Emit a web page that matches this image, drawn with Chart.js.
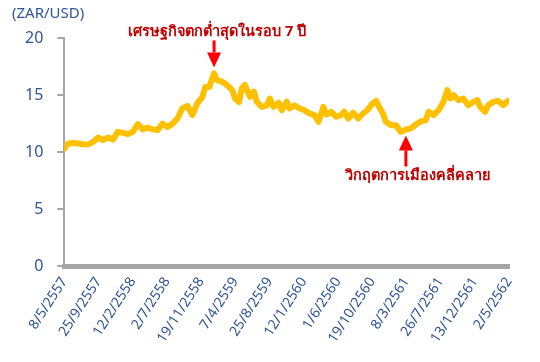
<!DOCTYPE html>
<html><head><meta charset="utf-8">
<script src="https://cdn.jsdelivr.net/npm/chart.js@4.4.1/dist/chart.umd.min.js"></script>
<style>html,body{margin:0;padding:0;background:#fff}#wrap{width:540px;height:362px}</style>
</head><body><div id="wrap"><canvas id="c" width="540" height="362"></canvas></div>
<script>
const unitLabel = '(ZAR/USD)';
const tickLabels = ['8/5/2557','25/9/2557','12/2/2558','2/7/2558','19/11/2558','7/4/2559','25/8/2559','12/1/2560','1/6/2560','19/10/2560','8/3/2561','26/7/2561','13/12/2561','2/5/2562'];
const tickStepDays = 140;
const days = [0,16,37,57,77,98,118,138,158,179,199,219,240,260,280,301,321,341,362,382,402,422,443,463,483,504,524,544,565,577,593,613,626,646,666,687,699,715,727,739,760,776,788,808,829,841,857,877,890,910,922,943,963,983,1003,1024,1040,1052,1060,1073,1093,1113,1133,1146,1162,1182,1203,1223,1243,1255,1276,1288,1304,1316,1337,1357,1377,1398,1418,1438,1458,1479,1491,1511,1532,1552,1568,1580,1593,1613,1633,1653,1674,1690,1702,1722,1735,1755,1775,1796,1816];
const rate = [10.3,10.76,10.8,10.76,10.7,10.68,10.9,11.29,11.05,11.29,11.1,11.78,11.7,11.58,11.78,12.46,12.0,12.15,12.0,11.93,12.5,12.2,12.5,12.95,13.83,14.06,13.25,14.27,14.85,15.7,15.7,16.9,16.3,16.17,15.88,15.44,14.7,14.4,15.6,15.9,14.85,15.3,14.4,13.97,14.1,14.7,13.97,14.33,13.68,14.42,13.83,14.1,13.83,13.68,13.39,13.25,12.66,13.39,13.97,13.3,13.54,13.1,13.25,13.54,12.95,13.45,12.95,13.39,13.74,14.12,14.5,13.97,13.39,12.66,12.37,12.37,11.78,11.99,12.08,12.4,12.7,12.8,13.54,13.25,13.68,14.42,15.44,14.7,15.0,14.56,14.7,14.12,14.4,14.56,13.97,13.54,14.12,14.4,14.5,14.12,14.5];
const noteTexts = ['เศรษฐกิจตกต่ำสุดในรอบ 7 ปี','วิกฤตการเมืองคลี่คลาย'];
const noteDays = [613, 1398];
const noteValues = [16.9, 11.99];
const noteSides = ['above','below'];

const BLUE = '#2F5597', GRAY = '#A6A6A6';
const points = days.map((d,i)=>({x:d,y:rate[i]}));

const notesPlugin = {
  id:'notes',
  afterDraw(chart){
    const ctx = chart.ctx, xs = chart.scales.x, ys = chart.scales.y;
    ctx.save();
    ctx.fillStyle = BLUE;
    ctx.font = '15px "Noto Sans", sans-serif';
    ctx.textAlign = 'left'; ctx.textBaseline = 'middle';
    ctx.fillText(unitLabel, 12, 14);
    noteTexts.forEach((t,i)=>{
      const px = xs.getPixelForValue(noteDays[i]);
      const py = ys.getPixelForValue(noteValues[i]);
      const dir = noteSides[i]==='above' ? -1 : 1;
      const tipY = py + dir*6;
      const headY = tipY + dir*15;
      const tailY = headY + dir*(i===0?12:16);
      ctx.fillStyle = '#FF0000'; ctx.strokeStyle = '#FF0000';
      ctx.beginPath(); ctx.moveTo(px, tipY); ctx.lineTo(px-7, headY); ctx.lineTo(px+7, headY); ctx.closePath(); ctx.fill();
      ctx.lineWidth = 3; ctx.beginPath(); ctx.moveTo(px, headY); ctx.lineTo(px, tailY); ctx.stroke();
      ctx.fillStyle = '#C00000';
      ctx.font = 'bold 14.5px "Noto Sans", sans-serif';
      ctx.textAlign = 'center'; ctx.textBaseline = 'middle';
      const ty = i===0 ? tailY - 9 : tailY + 9;
      const tx = i===0 ? px + 3 : px + 12;
      ctx.fillText(t, tx, ty);
    });
    ctx.restore();
  }
};

new Chart(document.getElementById('c'), {
  type:'line',
  data:{datasets:[{data:points,borderColor:'#FFC000',borderWidth:6,pointRadius:0,tension:0,fill:false,borderJoinStyle:'round',borderCapStyle:'round'}]},
  options:{
    responsive:false, animation:false,
    layout:{padding:{left:11,right:31,top:38,bottom:8}},
    plugins:{legend:{display:false},tooltip:{enabled:false}},
    scales:{
      x:{type:'linear',min:0,max:tickStepDays*(tickLabels.length-1),
        afterBuildTicks:s=>{s.ticks = tickLabels.map((_,i)=>({value:i*tickStepDays}));},
        grid:{display:false,drawTicks:false},
        border:{display:true,color:GRAY,width:5},
        ticks:{autoSkip:false,maxRotation:57,minRotation:57,padding:8,color:BLUE,font:{family:'"Noto Sans", sans-serif',size:14},
          callback:(v,i)=>tickLabels[i]}
      },
      y:{min:0,max:20,
        afterBuildTicks:s=>{s.ticks=[0,5,10,15,20].map(v=>({value:v}));},
        grid:{drawOnChartArea:false,drawTicks:true,tickLength:7,color:GRAY,lineWidth:2},
        border:{display:true,color:GRAY,width:2},
        ticks:{padding:14,color:BLUE,font:{family:'"Noto Sans", sans-serif',size:16}}
      }
    }
  },
  plugins:[notesPlugin]
});
</script></body></html>
